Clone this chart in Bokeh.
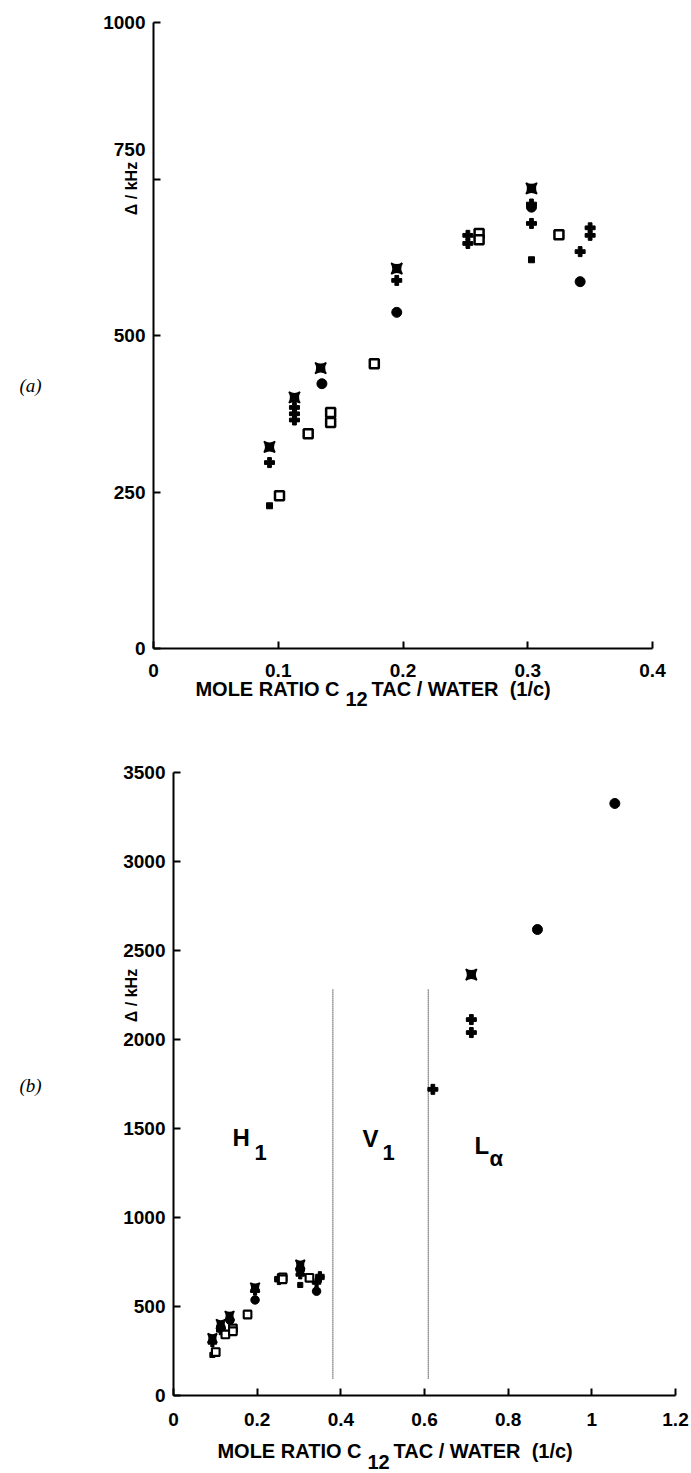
import math
from bokeh.plotting import figure
from bokeh.layouts import column
from bokeh.models import Label, Range1d, FixedTicker, LinearAxis
from bokeh.embed import file_html
from bokeh.resources import INLINE

# ---------------- data ----------------
# series drawn with a "bow-tie" square marker
pin_x = [0.093, 0.113, 0.134, 0.195, 0.303]
pin_y = [322, 401, 448, 607, 735]
# filled circles
circ_x = [0.135, 0.195, 0.303, 0.342]
circ_y = [423, 537, 705, 586]
# plus signs
plus_x = [0.093, 0.113, 0.113, 0.113, 0.195, 0.252, 0.252, 0.303, 0.303, 0.342, 0.350, 0.350]
plus_y = [297, 385, 375, 365, 588, 660, 647, 710, 679, 634, 672, 660]
# small filled squares
dot_x = [0.093, 0.303]
dot_y = [228, 621]
# open squares
open_x = [0.101, 0.124, 0.142, 0.142, 0.177, 0.261, 0.261, 0.325]
open_y = [244, 343, 377, 361, 455, 663, 653, 661]
# extra points only in panel (b)
b_pin_x = [0.712]
b_pin_y = [2365]
b_circ_x = [0.870, 1.055]
b_circ_y = [2618, 3326]
b_plus_x = [0.620, 0.712, 0.712]
b_plus_y = [1720, 2112, 2039]
# phase boundaries (dotted lines) in panel (b)
bound_x = [0.381, 0.609]
bound_lo = [95, 95]
bound_hi = [2281, 2281]

xticks_a = [0, 0.1, 0.2, 0.3, 0.4]
yticks_a = [0, 250, 500, 750, 1000]
xticks_b = [0, 0.2, 0.4, 0.6, 0.8, 1.0, 1.2]
yticks_b = [0, 500, 1000, 1500, 2000, 2500, 3000, 3500]

FONT = "Liberation Sans"
W = 691


def make_fig(height, x0, x1, px0, px1, y0, y1, py0, py1, top):
    """Figure whose frame is the whole canvas; data range chosen so that
    x0->px0, x1->px1 and y0->py0, y1->py1 (page pixels, top offset 'top')."""
    kx = (px1 - px0) / (x1 - x0)
    ky = (py0 - py1) / (y1 - y0)
    lpy0 = py0 - top
    xr = Range1d(x0 - px0 / kx, x0 + (W - px0) / kx)
    yr = Range1d(y0 - (height - lpy0) / ky, y0 + lpy0 / ky)
    p = figure(width=W, height=height, x_range=xr, y_range=yr, min_border=0,
               x_axis_location=None, y_axis_location=None,
               output_backend="svg", toolbar_location=None,
               background_fill_color="white", border_fill_color="white")
    p.xgrid.visible = False
    p.ygrid.visible = False
    p.outline_line_color = None
    return p


def add_axes(p, xt, yt, xb, yb, xstand, ystand, hide_y=()):
    xa = LinearAxis(fixed_location=yb[0], bounds=xb, ticker=FixedTicker(ticks=xt))
    ya = LinearAxis(fixed_location=xb[0], bounds=yb, ticker=FixedTicker(ticks=yt))
    for ax in (xa, ya):
        ax.axis_line_width = 2
        ax.axis_line_color = "black"
        ax.major_tick_in = 7
        ax.major_tick_out = 0
        ax.major_tick_line_width = 2
        ax.major_tick_line_color = "black"
        ax.minor_tick_line_color = None
        ax.major_label_text_font = FONT
        ax.major_label_text_font_style = "bold"
        ax.major_label_text_font_size = "19px"
        ax.major_label_text_color = "black"
    xa.major_label_overrides = {t: ("%g" % t) for t in xt}
    ya.major_label_overrides = {t: ("" if t in hide_y else "%g" % t) for t in yt}
    xa.major_label_standoff = xstand
    ya.major_label_standoff = ystand
    p.add_layout(xa, "below")
    p.add_layout(ya, "left")


def draw_points(p, px, py, cx, cy, plx, ply, dx, dy, ox, oy, scale=1.0):
    p.scatter(px, py, marker="square_pin", size=11 * scale, fill_color="black", line_color="black",
              line_width=1.5)
    p.scatter(cx, cy, marker="circle", size=10 * scale, fill_color="black", line_color="black")
    p.scatter(plx, ply, marker="plus", size=10 * scale, fill_color="black", line_color="black")
    p.scatter(dx, dy, marker="square", size=6 * scale, fill_color="black", line_color="black")
    p.scatter(ox, oy, marker="square", size=9 * scale, fill_color="white", line_color="black",
              line_width=2.5 * scale)


def lab(p, H, top, text, x, y, size, angle=0.0, align="left", font=FONT, style_="bold"):
    # x, y in page pixels (y from page top); convert to frame screen units
    p.add_layout(Label(x=x, y=H - (y - top), x_units="screen", y_units="screen", text=text,
                       text_font=font, text_font_style=style_, text_font_size=size,
                       text_color="black", text_align=align, text_baseline="middle",
                       angle=angle))


# ---------------- panel (a) ----------------
HA, TA = 720, 0
pa = make_fig(HA, 0, 0.4, 153, 652, 0, 1000, 648, 22, TA)
add_axes(pa, xticks_a, yticks_a, (0, 0.4), (0, 1000), 15, 8, hide_y=(750,))
draw_points(pa, pin_x, pin_y, circ_x, circ_y, plus_x, plus_y, dot_x, dot_y, open_x, open_y)

# the "750" tick label sits above its tick in the original, to clear the axis title
lab(pa, HA, TA, "750", 145, 149, "19px", align="right")
lab(pa, HA, TA, "MOLE RATIO C", 339, 688, "20px", align="right")
lab(pa, HA, TA, "12", 345, 698, "20px")
lab(pa, HA, TA, "TAC / WATER\u00a0\u00a0(1/c)", 371, 688, "20px")
lab(pa, HA, TA, "\u0394 / kHz", 131, 188, "16px", angle=math.pi / 2, align="center")
lab(pa, HA, TA, "(a)", 30, 385, "19px", align="center", font="Liberation Serif", style_="italic")

# ---------------- panel (b) ----------------
HB, TB = 753, 720
pb = make_fig(HB, 0, 1.2, 173, 675, 0, 3500, 1395, 772, TB)
add_axes(pb, xticks_b, yticks_b, (0, 1.2), (0, 3500), 17, 8)
pb.segment(x0=bound_x, y0=bound_lo, x1=bound_x, y1=bound_hi, line_color="black",
           line_width=1, line_dash="1 1")
draw_points(pb, pin_x, pin_y, circ_x, circ_y, plus_x, plus_y, dot_x, dot_y, open_x, open_y, scale=0.85)
pb.scatter(b_pin_x, b_pin_y, marker="square_pin", size=11, fill_color="black", line_color="black",
           line_width=1.5)
pb.scatter(b_circ_x, b_circ_y, marker="circle", size=10, fill_color="black", line_color="black")
pb.scatter(b_plus_x, b_plus_y, marker="plus", size=10, fill_color="black", line_color="black")

lab(pb, HB, TB, "MOLE RATIO C", 361, 1450, "20px", align="right")
lab(pb, HB, TB, "12", 367, 1461, "20px")
lab(pb, HB, TB, "TAC / WATER\u00a0\u00a0(1/c)", 393, 1450, "20px")
lab(pb, HB, TB, "\u0394 / kHz", 131, 995, "16px", angle=math.pi / 2, align="center")
lab(pb, HB, TB, "(b)", 30, 1085, "19px", align="center", font="Liberation Serif", style_="italic")
# phase labels
lab(pb, HB, TB, "H", 232, 1137, "24px")
lab(pb, HB, TB, "1", 254, 1152, "22px")
lab(pb, HB, TB, "V", 362, 1138, "24px")
lab(pb, HB, TB, "1", 382, 1152, "22px")
lab(pb, HB, TB, "L", 474, 1145, "24px")
lab(pb, HB, TB, "\u03b1", 489, 1158, "22px")

layout = column(pa, pb, spacing=0)
open("out.html", "w").write(file_html(layout, INLINE))
